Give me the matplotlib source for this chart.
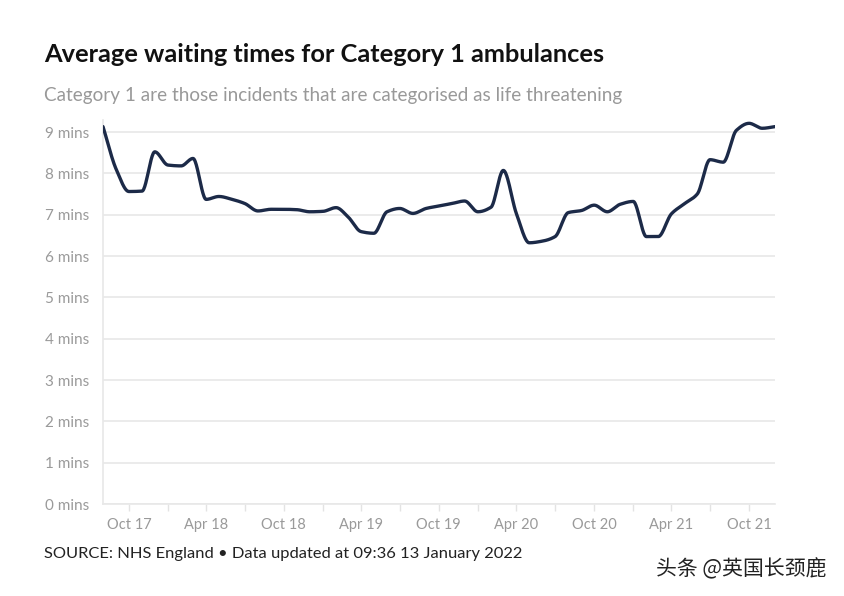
import numpy as np
import pandas as pd
import matplotlib
matplotlib.use("Agg")
import matplotlib.pyplot as plt
import matplotlib.dates as mdates

# monthly average Category 1 response time (minutes), Aug 2017 - Dec 2021
months = pd.date_range("2017-08-01", "2021-12-01", freq="MS")
mins = [9.13, 8.10, 7.56, 7.57, 8.52,
        8.20, 8.18, 8.36, 7.37, 7.44, 7.37, 7.27, 7.09, 7.13, 7.13, 7.12, 7.07,
        7.08, 7.17, 6.95, 6.59, 6.55, 7.07, 7.15, 7.03, 7.15, 7.21, 7.27, 7.33,
        7.07, 7.18, 8.07, 7.02, 6.32, 6.36, 6.47, 7.05, 7.10, 7.23, 7.07, 7.25,
        7.32, 6.47, 6.47, 7.02, 7.26, 7.50, 8.33, 8.27, 9.04, 9.21, 9.09, 9.13]
yticks = list(range(0, 10))
ylabels = [f"{v} mins" for v in yticks]

title = "Average waiting times for Category 1 ambulances"
subtitle = "Category 1 are those incidents that are categorised as life threatening"
source = "SOURCE: NHS England \u2022 Data updated at 09:36 13 January 2022"
watermark = "头条 @英国长颈鹿"


def monotone_curve(x, y, n=24):
    # smooth line through the points without overshoot (like d3 curveMonotoneX)
    x = np.asarray(x, float)
    y = np.asarray(y, float)
    h = np.diff(x)
    d = np.diff(y) / h
    m = np.zeros_like(y)
    m[0], m[-1] = d[0], d[-1]
    for k in range(1, len(y) - 1):
        if d[k - 1] * d[k] > 0:
            w1 = 2 * h[k] + h[k - 1]
            w2 = h[k] + 2 * h[k - 1]
            m[k] = (w1 + w2) / (w1 / d[k - 1] + w2 / d[k])
    xs, ys = [], []
    for k in range(len(h)):
        t = np.linspace(0, 1, n, endpoint=False)
        h00 = 2 * t**3 - 3 * t**2 + 1
        h10 = t**3 - 2 * t**2 + t
        h01 = -2 * t**3 + 3 * t**2
        h11 = t**3 - t**2
        xs.append(x[k] + t * h[k])
        ys.append(h00 * y[k] + h10 * h[k] * m[k] + h01 * y[k + 1] + h11 * h[k] * m[k + 1])
    xs.append([x[-1]])
    ys.append([y[-1]])
    return np.concatenate(xs), np.concatenate(ys)


plt.rcParams["font.family"] = ["Lato", "DejaVu Sans"]

fig = plt.figure(figsize=(8.44, 5.96), dpi=100, facecolor="white")
ax = fig.add_axes([103 / 844, 1 - 504 / 596, 672 / 844, 384.4 / 596])

xn = mdates.date2num(months)
cx, cy = monotone_curve(xn, mins)
ax.plot(cx, cy, color="#1c2a48", lw=2.4, solid_capstyle="round", zorder=3)

ax.set_xlim(xn[0], xn[-1])
ax.set_ylim(0, 9.3)
ax.set_yticks(yticks)
ax.set_yticklabels(ylabels)
ax.grid(axis="y", color="#e8e8e8", lw=1.2)
ax.set_axisbelow(True)

ax.xaxis.set_major_locator(mdates.MonthLocator(bymonth=[4, 10]))
ax.xaxis.set_major_formatter(mdates.DateFormatter("%b %y"))
ax.xaxis.set_minor_locator(mdates.MonthLocator(bymonth=[1, 7]))

for s in ["top", "right"]:
    ax.spines[s].set_visible(False)
ax.spines["left"].set_color("#e8e8e8")
ax.spines["bottom"].set_color("#e8e8e8")
ax.spines["left"].set_linewidth(1.2)
ax.spines["bottom"].set_linewidth(1.2)

ax.tick_params(axis="y", length=0, pad=10, labelsize=11, labelcolor="#9a9a9a")
ax.tick_params(axis="x", which="both", length=5, width=1, color="#e3e3e3",
               pad=5, labelsize=10.5, labelcolor="#9a9a9a")

fig.text(44 / 844, 1 - 55 / 596, title, fontsize=18.3, fontweight="bold",
         color="#111111", va="center", ha="left")
fig.text(44 / 844, 1 - 96 / 596, subtitle, fontsize=13.6, color="#999999",
         va="center", ha="left")
fig.text(44 / 844, 1 - 554 / 596, source, fontsize=11.85, color="#222222",
         va="center", ha="left")
fig.text(826 / 844, 1 - 569 / 596, watermark, fontsize=15, color="#222222",
         va="center", ha="right", family=["Noto Sans CJK SC", "DejaVu Sans"])

fig.savefig("out.png", dpi=100, facecolor="white")
